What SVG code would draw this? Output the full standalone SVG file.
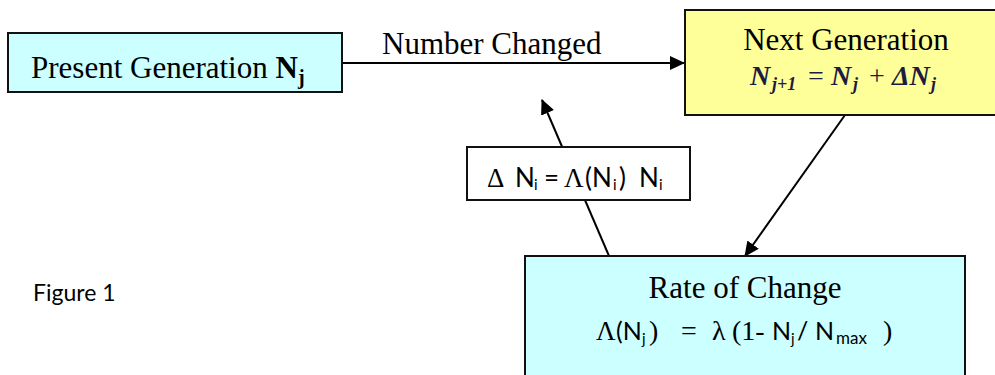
<svg xmlns="http://www.w3.org/2000/svg" width="995" height="375" viewBox="0 0 995 375">
<style>
.box{stroke:#111;stroke-width:2}
.serif{font-family:"Liberation Serif","Times New Roman",serif;fill:#000}
.sans{font-family:Lato,"Open Sans",sans-serif;fill:#000}
.math{font-family:"Liberation Serif","Times New Roman",serif;font-weight:bold;font-style:italic;fill:#1c1c40}
.op{font-family:"Liberation Serif","Times New Roman",serif;fill:#1c1c40}
.conn{stroke:#000;stroke-width:2;fill:none}
</style>
<defs>
<marker id="ah" markerWidth="15" markerHeight="14" refX="14" refY="7" orient="auto" markerUnits="userSpaceOnUse" viewBox="0 0 15 14">
<path d="M0,0 L15,7 L0,14 z" fill="#000"/>
</marker>
</defs>
<rect width="995" height="375" fill="#fff"/>
<g id="connectors">
<line class="conn" x1="342" y1="63" x2="684" y2="63" marker-end="url(#ah)"/>
<line class="conn" x1="609" y1="256" x2="542" y2="100" marker-end="url(#ah)"/>
<line class="conn" x1="845" y1="115" x2="745" y2="256" marker-end="url(#ah)"/>
</g>
<g id="present">
<rect class="box" x="8" y="33" width="334" height="59" fill="#CCFFFF"/>
<text class="serif" x="31" y="78" font-size="31">Present Generation <tspan font-weight="bold">N</tspan><tspan font-weight="bold" font-size="20" dy="6">j</tspan></text>
</g>
<g id="label-number-changed">
<text class="serif" x="382" y="54" font-size="31">Number Changed</text>
</g>
<g id="next">
<rect class="box" x="685" y="10" width="320" height="105" fill="#FFFF99"/>
<text class="serif" x="846" y="50" font-size="31" text-anchor="middle">Next Generation</text>
<g font-size="28">
<text class="math" x="750" y="85">N</text>
<text class="math" x="772" y="90" font-size="18">j+1</text>
<text class="op" x="808" y="85">=</text>
<text class="math" x="831" y="85">N</text>
<text class="math" x="853" y="90" font-size="18">j</text>
<text class="op" x="869" y="85">+</text>
<text class="math" x="892" y="85">ΔN</text>
<text class="math" x="931" y="90" font-size="18">j</text>
</g>
</g>
<g id="delta">
<rect class="box" x="467" y="147" width="223" height="53" fill="#fff"/>
<g font-size="26">
<text class="serif" x="487" y="187" font-size="27">Δ</text>
<text class="sans" x="515" y="187">N</text>
<text class="sans" x="534" y="190" font-size="15">i</text>
<text class="sans" x="544" y="187">=</text>
<text class="serif" x="564" y="187" font-size="27">Λ</text>
<text class="sans" x="585" y="187">(N</text>
<text class="sans" x="613" y="190" font-size="15">i</text>
<text class="sans" x="619" y="187">)</text>
<text class="sans" x="639" y="187">N</text>
<text class="sans" x="659" y="190" font-size="15">i</text>
</g>
</g>
<g id="rate">
<rect class="box" x="525" y="256" width="440" height="130" fill="#CCFFFF"/>
<text class="serif" x="745" y="298" font-size="31" text-anchor="middle">Rate of Change</text>
<g font-size="28">
<text class="serif" x="596" y="340" font-size="27">Λ</text>
<text class="sans" x="616" y="340" font-size="25">(N</text>
<text class="sans" x="642" y="344" font-size="15">j</text>
<text class="serif" x="649" y="340">)</text>
<text class="serif" x="681" y="340">=</text>
<text class="serif" x="712" y="340">λ</text>
<text class="serif" x="732" y="340">(1-</text>
<text class="sans" x="772" y="340" font-size="25">N</text>
<text class="sans" x="791" y="344" font-size="15">j</text>
<text class="sans" x="797" y="340" font-size="25">/</text>
<text class="sans" x="815" y="340" font-size="25">N</text>
<text class="sans" x="836" y="344" font-size="17">max</text>
<text class="serif" x="883" y="340">)</text>
</g>
</g>
<g id="caption">
<text class="sans" x="33" y="301" font-size="23">Figure 1</text>
</g>
</svg>
